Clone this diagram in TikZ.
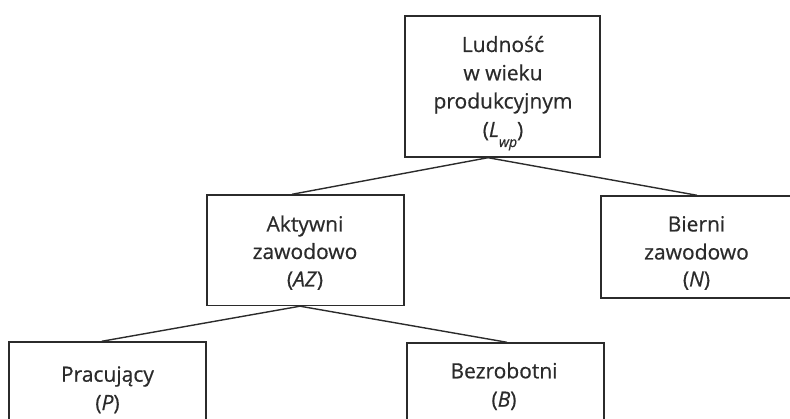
\documentclass[tikz,border=0pt]{standalone}
\usepackage{fontspec}
\setmainfont{Open Sans}[FakeBold=0.5]
\definecolor{ink}{HTML}{2B2B2B}
\begin{document}
\begin{tikzpicture}[x=1pt,y=-1pt,
  box/.style={draw=ink,line width=1.4pt,rectangle,inner sep=0pt},
  txt/.style={anchor=base,inner sep=0pt,text=ink,font=\fontsize{21}{24}\selectfont},
  conn/.style={draw=ink,line width=1.4pt}]
\useasboundingbox (0,0) rectangle (790,419);
\clip (0,0) rectangle (790,419);
% boxes
\node[box,minimum width=195pt,minimum height=141pt] (L) at (502.5,86.5) {};
\node[box,minimum width=197pt,minimum height=110.5pt] (AZ) at (305.5,250.25) {};
\node[box,minimum width=197pt,minimum height=102pt] (N) at (699.5,247) {};
\node[box,minimum width=197pt,minimum height=118pt] (P) at (107.5,401) {};
\node[box,minimum width=197pt,minimum height=118pt] (B) at (505.5,402) {};
% texts
\node[txt] (l1) at (503,52) {Ludność};
\node[txt] (l2) at (503,80.3) {w wieku};
\node[txt] (l3) at (503,108.5) {produkcyjnym};
\node[txt] (l4) at (503,137) {(\textit{L}\raisebox{-10pt}{\fontsize{14}{14}\selectfont\itshape wp})};
\node[txt] (a1) at (305,231.5) {Aktywni};
\node[txt] (a2) at (305,259) {zawodowo};
\node[txt] (a3) at (305,286.5) {(\textit{AZ})};
\node[txt] (n1) at (696.5,231.5) {Bierni};
\node[txt] (n2) at (696.5,259.5) {zawodowo};
\node[txt] (n3) at (696.5,286.5) {(\textit{N})};
\node[txt] (p1) at (107.5,381.7) {Pracujący};
\node[txt] (p2) at (107.5,410) {(\textit{P})};
\node[txt] (b1) at (504,378.3) {Bezrobotni};
\node[txt] (b2) at (504,406.7) {(\textit{B})};
% connectors
\draw[conn] ([xshift=-14.5pt]L.south) -- ([xshift=-13.5pt]AZ.north);
\draw[conn] ([xshift=-14.5pt]L.south) -- ([xshift=-2.5pt]N.north);
\draw[conn] ([xshift=-5.5pt]AZ.south) -- ([xshift=-5.8pt]P.north);
\draw[conn] ([xshift=-5.5pt]AZ.south) -- ([xshift=1.5pt]B.north);
\end{tikzpicture}
\end{document}
